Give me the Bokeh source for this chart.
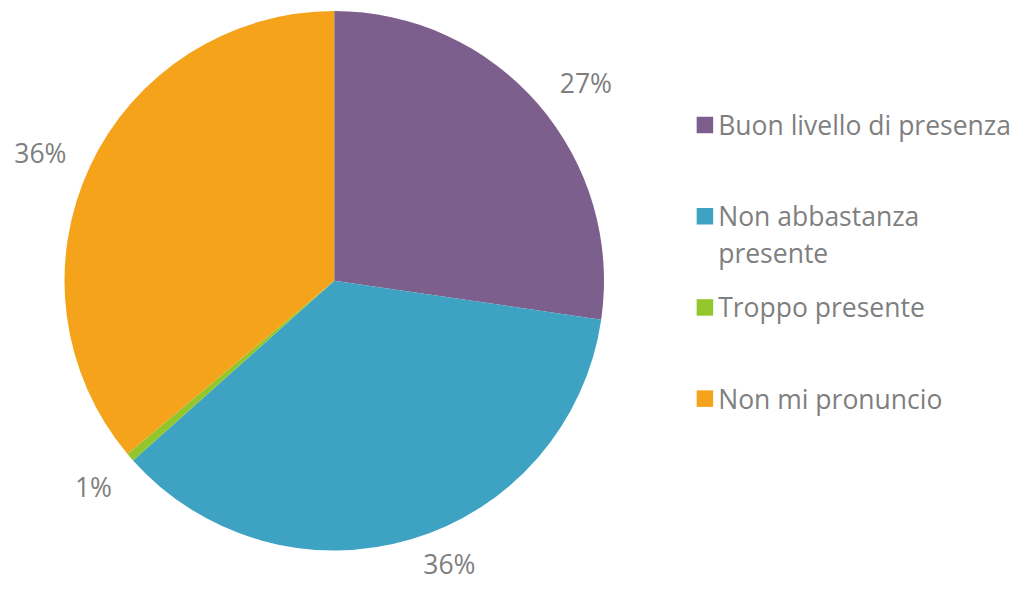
import math
from bokeh.plotting import figure
from bokeh.models import Range1d, ColumnDataSource
from bokeh.core.properties import value
from bokeh.embed import file_html
from bokeh.resources import INLINE

# ---- data ----
categories = ["Buon livello di presenza", "Non abbastanza presente", "Troppo presente", "Non mi pronuncio"]
shares = [27.3, 36.1, 0.5, 36.1]
pct_labels = ["27%", "36%", "1%", "36%"]
legend_lines = [["Buon livello di presenza"], ["Non abbastanza", "presente"], ["Troppo presente"], ["Non mi pronuncio"]]
colors = ["#7D5F8E", "#3EA2C2", "#93C62B", "#F4A31B"]

# label nudges in layout units (dx right, dy down) - style only
label_nudge = [(9, 10), (23, -21), (2, -1), (-3, 7)]

# ---- layout: a 1032x597 design space drawn into a figure that fits the window ----
DW, DH = 1032, 597
W, H = 1016, 581
p = figure(width=W, height=H, output_backend="svg", toolbar_location=None,
           x_range=Range1d(0, DW), y_range=Range1d(0, DH),
           min_border=0)
p.axis.visible = False
p.grid.visible = False
p.outline_line_color = None
p.background_fill_color = "white"
p.border_fill_color = "white"

cx, cy, R = 339, DH - 288, 274
total = sum(shares)
starts, ends, mids = [], [], []
acc = 0.0
for s in shares:
    a0 = math.pi / 2 - acc / total * 2 * math.pi
    acc += s
    a1 = math.pi / 2 - acc / total * 2 * math.pi
    starts.append(a0); ends.append(a1); mids.append((a0 + a1) / 2)

src = ColumnDataSource(dict(start=starts, end=ends, color=colors))
p.wedge(x=cx, y=cy, radius=R, start_angle="start", end_angle="end",
        direction="clock", fill_color="color", line_color=None, source=src)

# percentage labels
rl = R * 1.19
lx = [cx + rl * math.cos(m) + n[0] for m, n in zip(mids, label_nudge)]
ly = [cy + rl * math.sin(m) - n[1] for m, n in zip(mids, label_nudge)]
p.text(x=lx, y=ly, text=pct_labels, text_align="center", text_baseline="middle",
       text_font=value("Open Sans"), text_font_size="26.5px", text_color="#7F7F7F")

# legend
lg_x, lg_y0, lg_step, line_h = 715.5, DH - 128, 93.7, 38
sq_x, sq_y, tx, ty, tt = [], [], [], [], []
for i, lines in enumerate(legend_lines):
    y = lg_y0 - i * lg_step
    sq_x.append(lg_x); sq_y.append(y)
    for j, ln in enumerate(lines):
        tx.append(729); ty.append(y - j * line_h); tt.append(ln)
p.scatter(x=sq_x, y=sq_y, marker="square", size=16.5, fill_color=colors, line_color=None)
p.text(x=tx, y=ty, text=tt, text_align="left", text_baseline="middle",
       text_font=value("Open Sans"), text_font_size="26.5px", text_color="#7F7F7F")

open("out.html", "w").write(file_html(p, INLINE))
